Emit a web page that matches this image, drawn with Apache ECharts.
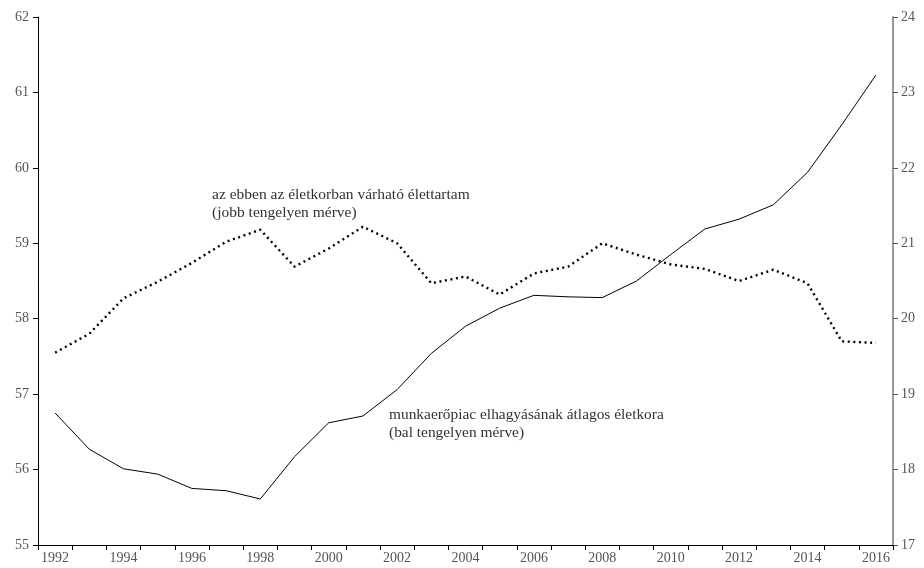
<!DOCTYPE html>
<html>
<head>
<meta charset="utf-8">
<script src="https://cdn.jsdelivr.net/npm/echarts@6/dist/echarts.min.js"></script>
<style>
html,body{margin:0;padding:0;background:#fff;}
#chart{width:924px;height:568px;}
</style>
</head>
<body>
<div id="chart"></div>
<script>
const years = ['1992','1993','1994','1995','1996','1997','1998','1999','2000','2001','2002','2003','2004','2005','2006','2007','2008','2009','2010','2011','2012','2013','2014','2015','2016'];
// munkaerőpiac elhagyásának átlagos életkora (bal tengely)
const exitAge = [56.75, 56.27, 56.01, 55.94, 55.75, 55.72, 55.61, 56.17, 56.62, 56.71, 57.06, 57.54, 57.90, 58.14, 58.31, 58.29, 58.28, 58.50, 58.85, 59.19, 59.32, 59.51, 59.94, 60.57, 61.23];
// az ebben az életkorban várható élettartam (jobb tengely)
const lifeExp = [19.55, 19.80, 20.27, 20.49, 20.74, 21.02, 21.18, 20.69, 20.93, 21.22, 21.00, 20.47, 20.56, 20.32, 20.60, 20.69, 21.00, 20.85, 20.72, 20.66, 20.50, 20.65, 20.47, 19.70, 19.68];
const leftTicks = {min: 55, max: 62, interval: 1};
const rightTicks = {min: 17, max: 24, interval: 1};
const label1 = 'az ebben az életkorban várható élettartam\n(jobb tengelyen mérve)';
const label2 = 'munkaerőpiac elhagyásának átlagos életkora\n(bal tengelyen mérve)';

const serif = '"Liberation Serif", "DejaVu Serif", serif';
const chart = echarts.init(document.getElementById('chart'), null, {renderer: 'canvas'});
chart.setOption({
  animation: false,
  backgroundColor: '#fff',
  grid: {left: 38, right: 31, top: 17, bottom: 23, containLabel: false},
  xAxis: {
    type: 'category',
    data: years,
    boundaryGap: true,
    axisLine: {lineStyle: {color: '#000', width: 1}},
    axisTick: {show: true, interval: 0, length: 5, lineStyle: {color: '#000'}},
    axisLabel: {interval: 1, color: '#555', fontFamily: serif, fontSize: 14, margin: 6}
  },
  yAxis: [
    {
      type: 'value', min: leftTicks.min, max: leftTicks.max, interval: leftTicks.interval,
      position: 'left',
      splitLine: {show: false},
      axisLine: {show: true, lineStyle: {color: '#000', width: 1}},
      axisTick: {show: true, length: 5, lineStyle: {color: '#000'}},
      axisLabel: {color: '#555', fontFamily: serif, fontSize: 14, margin: 9}
    },
    {
      type: 'value', min: rightTicks.min, max: rightTicks.max, interval: rightTicks.interval,
      position: 'right',
      splitLine: {show: false},
      axisLine: {show: true, lineStyle: {color: '#777', width: 1.5}},
      axisTick: {show: true, length: 5, lineStyle: {color: '#555'}},
      axisLabel: {color: '#555', fontFamily: serif, fontSize: 14, margin: 8}
    }
  ],
  series: [
    {
      name: 'exitAge', type: 'line', yAxisIndex: 0, data: exitAge,
      showSymbol: false, symbol: 'none',
      lineStyle: {color: '#000', width: 1}
    },
    {
      name: 'lifeExp', type: 'line', yAxisIndex: 1, data: lifeExp,
      showSymbol: false, symbol: 'none',
      lineStyle: {color: '#000', width: 2.4, type: [2, 3.6], cap: 'butt'}
    }
  ],
  graphic: [
    {type: 'text', left: 212, top: 186, style: {text: label1, font: '15.5px ' + serif, fill: '#333', lineHeight: 18}},
    {type: 'text', left: 389, top: 406, style: {text: label2, font: '15.4px ' + serif, fill: '#333', lineHeight: 18}}
  ]
});
</script>
</body>
</html>
